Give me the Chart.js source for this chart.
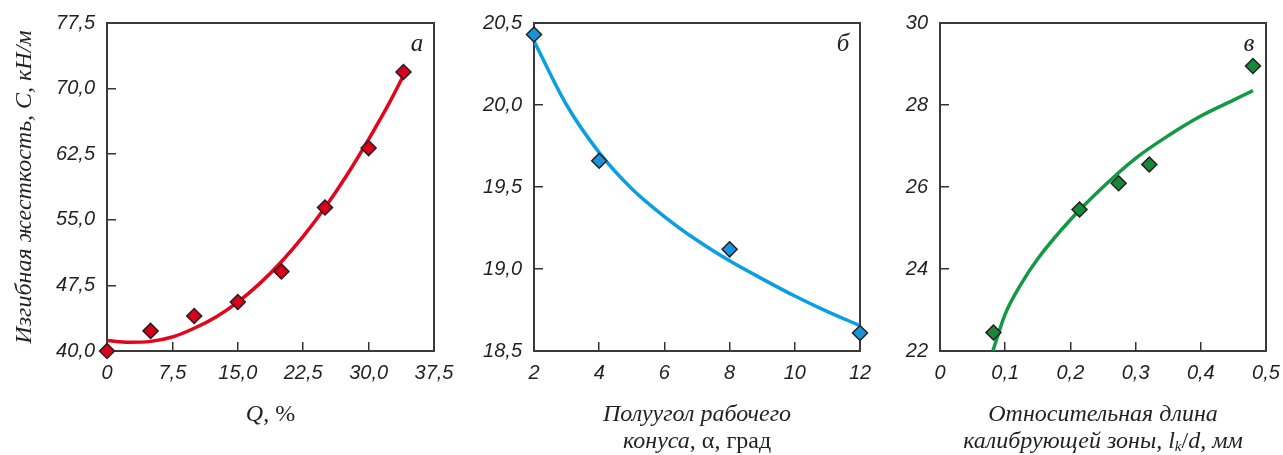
<!DOCTYPE html>
<html>
<head>
<meta charset="utf-8">
<script src="https://cdn.jsdelivr.net/npm/chart.js@4.4.1/dist/chart.umd.min.js"></script>
<style>
  body { margin: 0; background: #fff; }
  #wrap { position: relative; width: 1283px; height: 455px; overflow: hidden; background: #fff; }
  canvas { position: absolute; top: 0; }
</style>
</head>
<body>
<div id="wrap">
  <canvas id="chartA" width="470" height="455" style="left:0px"></canvas>
  <canvas id="chartB" width="450" height="455" style="left:440px"></canvas>
  <canvas id="chartC" width="413" height="455" style="left:870px"></canvas>
</div>
<script>
// panel a: stiffness vs Q, %
const qValues = [0, 5, 10, 15, 20, 25, 30, 34];
const stiffnessQ = [40.0, 42.3, 44.0, 45.6, 49.1, 56.4, 63.2, 71.9];
const fitQx = [0, 2.5, 5, 7.5, 10, 12.5, 15, 17.5, 20, 22.5, 25, 27.5, 30, 32.5, 34];
const fitQy = [41.2, 41.0, 41.1, 41.6, 42.6, 43.9, 45.6, 47.7, 50.2, 53.1, 56.4, 60.1, 64.2, 68.6, 71.5];
const xTicksA = [0, 7.5, 15, 22.5, 30, 37.5];
const xLabelsA = ['0', '7,5', '15,0', '22,5', '30,0', '37,5'];
const yTicksA = [40, 47.5, 55, 62.5, 70, 77.5];
const yLabelsA = ['40,0', '47,5', '55,0', '62,5', '70,0', '77,5'];

// panel б: stiffness vs cone half-angle
const angleValues = [2, 4, 8, 12];
const stiffnessAngle = [20.43, 19.66, 19.12, 18.61];
const fitAngleX = [2, 3, 4, 5, 6, 7, 8, 9, 10, 11, 12];
const fitAngleY = [20.39, 20.0, 19.71, 19.49, 19.32, 19.175, 19.05, 18.94, 18.835, 18.74, 18.655];
const xTicksB = [2, 4, 6, 8, 10, 12];
const xLabelsB = ['2', '4', '6', '8', '10', '12'];
const yTicksB = [18.5, 19, 19.5, 20, 20.5];
const yLabelsB = ['18,5', '19,0', '19,5', '20,0', '20,5'];

// panel в: stiffness vs relative length of calibrating zone
const lengthValues = [0.082, 0.214, 0.274, 0.321, 0.48];
const stiffnessLength = [22.45, 25.45, 26.09, 26.55, 28.95];
const fitLengthX = [0.081, 0.1, 0.125, 0.15, 0.2, 0.25, 0.3, 0.35, 0.4, 0.45, 0.48];
const fitLengthY = [22.0, 22.9, 23.65, 24.25, 25.2, 26.0, 26.7, 27.25, 27.73, 28.12, 28.35];
const xTicksC = [0, 0.1, 0.2, 0.3, 0.4, 0.5];
const xLabelsC = ['0', '0,1', '0,2', '0,3', '0,4', '0,5'];
const yTicksC = [22, 24, 26, 28, 30];
const yLabelsC = ['22', '24', '26', '28', '30'];

const yTitleA = 'Изгибная жесткость, С, кН/м';

const ink = '#231f20';
const tickFont = { family: '"Liberation Sans", Arial, sans-serif', size: 20, style: 'italic' };
const serifI = 'italic 24px "Liberation Serif", "Times New Roman", serif';
const serifR = '24px "Liberation Serif", "Times New Roman", serif';
const serifSub = 'italic 15px "Liberation Serif", "Times New Roman", serif';

function drawRuns(ctx, runs, cx, cy) {
  let total = 0;
  runs.forEach(r => { ctx.font = r.font; total += ctx.measureText(r.text).width; });
  let x = cx - total / 2;
  runs.forEach(r => {
    ctx.font = r.font;
    ctx.fillText(r.text, x, cy + (r.dy || 0));
    x += ctx.measureText(r.text).width;
  });
}

// frame round the plot area + letters and axis titles
const frameAndText = {
  id: 'frameAndText',
  beforeDatasetsDraw(chart) {
    const {ctx, chartArea: a} = chart;
    ctx.save();
    ctx.strokeStyle = '#3a3a3a';
    ctx.lineWidth = 2;
    ctx.strokeRect(a.left, a.top, a.right - a.left, a.bottom - a.top);
    ctx.restore();
  },
  afterDraw(chart, args, opts) {
    const {ctx, chartArea: a} = chart;
    const cx = (a.left + a.right) / 2;
    ctx.save();
    ctx.fillStyle = ink;
    ctx.textBaseline = 'middle';
    ctx.font = 'italic 25px "Liberation Serif", serif';
    ctx.textAlign = 'center';
    ctx.fillText(opts.letter, a.right - 17, a.top + 21);
    ctx.textAlign = 'left';
    opts.xTitle.forEach((line, i) => drawRuns(ctx, line, cx, 415 + i * 27));
    if (opts.yTitle) {
      ctx.translate(25, (a.top + a.bottom) / 2);
      ctx.rotate(-Math.PI / 2);
      ctx.font = serifI;
      ctx.textAlign = 'center';
      ctx.fillText(opts.yTitle, 0, 0);
    }
    ctx.restore();
  }
};

function axis(ticks, labels, isX, size) {
  return {
    type: 'linear',
    min: ticks[0],
    max: ticks[ticks.length - 1],
    afterBuildTicks: s => { s.ticks = ticks.map(v => ({ value: v })); },
    afterFit: s => {
      // plot area is set by layout padding only
      if (isX) { s.height = size; s.paddingLeft = 0; s.paddingRight = 0; }
      else { s.width = size; s.paddingTop = 0; s.paddingBottom = 0; }
    },
    ticks: {
      callback: (v, i) => labels[i],
      font: tickFont,
      color: ink,
      padding: isX ? 19 : 21,
      maxRotation: 0,
      autoSkip: false
    },
    grid: { drawOnChartArea: false, tickLength: -9, color: '#333', lineWidth: 1.5 },
    border: { display: false }
  };
}

function makePanel(id, p) {
  return new Chart(document.getElementById(id), {
    type: 'scatter',
    data: {
      datasets: [
        {
          data: p.px.map((x, i) => ({ x: x, y: p.py[i] })),
          pointStyle: 'rectRot',
          pointRadius: 7.5,
          backgroundColor: p.mark,
          borderColor: ink,
          borderWidth: 1.5,
          clip: false
        },
        {
          type: 'line',
          data: p.fx.map((x, i) => ({ x: x, y: p.fy[i] })),
          borderColor: p.line,
          borderWidth: 3.5,
          pointRadius: 0,
          cubicInterpolationMode: 'monotone',
          fill: false
        }
      ]
    },
    options: {
      responsive: false,
      animation: false,
      events: [],
      layout: { padding: { left: 0, top: 23, right: p.padRight, bottom: 0 } },
      plugins: {
        legend: { display: false },
        tooltip: { enabled: false },
        frameAndText: { letter: p.letter, xTitle: p.xTitle, yTitle: p.yTitle }
      },
      scales: {
        x: axis(p.xt, p.xl, true, 104),
        y: axis(p.yt, p.yl, false, p.yWidth)
      }
    },
    plugins: [frameAndText]
  });
}

makePanel('chartA', {
  px: qValues, py: stiffnessQ, fx: fitQx, fy: fitQy,
  xt: xTicksA, xl: xLabelsA, yt: yTicksA, yl: yLabelsA,
  mark: '#d9001b', line: '#e3061a',
  yWidth: 107, padRight: 36, letter: 'а', yTitle: yTitleA,
  xTitle: [[{ text: 'Q', font: serifI }, { text: ', %', font: serifR }]]
});

makePanel('chartB', {
  px: angleValues, py: stiffnessAngle, fx: fitAngleX, fy: fitAngleY,
  xt: xTicksB, xl: xLabelsB, yt: yTicksB, yl: yLabelsB,
  mark: '#1b93d8', line: '#0a9fe3',
  yWidth: 94, padRight: 30, letter: 'б',
  xTitle: [
    [{ text: 'Полуугол рабочего', font: serifI }],
    [{ text: 'конуса', font: serifI }, { text: ', α, град', font: serifR }]
  ]
});

makePanel('chartC', {
  px: lengthValues, py: stiffnessLength, fx: fitLengthX, fy: fitLengthY,
  xt: xTicksC, xl: xLabelsC, yt: yTicksC, yl: yLabelsC,
  mark: '#17883b', line: '#139845',
  yWidth: 70, padRight: 17, letter: 'в',
  xTitle: [
    [{ text: 'Относительная длина', font: serifI }],
    [
      { text: 'калибрующей зоны, ', font: serifI },
      { text: 'l', font: serifI },
      { text: 'k', font: serifSub, dy: 5 },
      { text: '/', font: serifR },
      { text: 'd, мм', font: serifI }
    ]
  ]
});
</script>
</body>
</html>
